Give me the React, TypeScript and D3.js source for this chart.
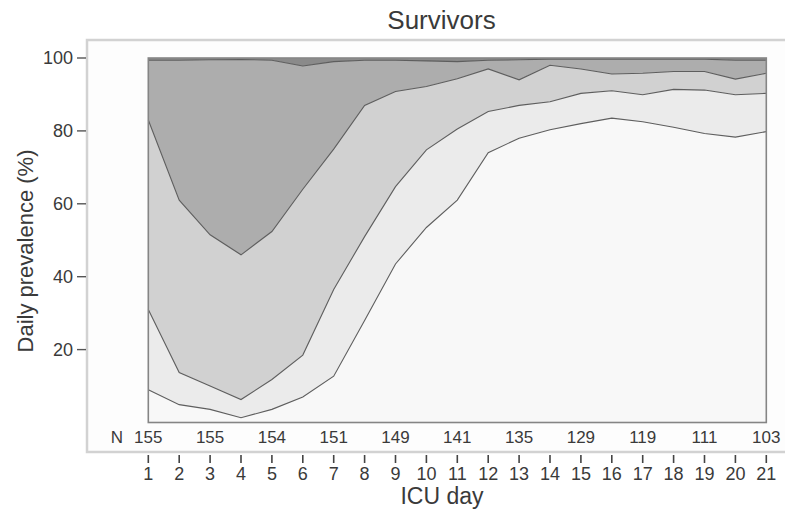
import * as React from "react";
import * as d3 from "d3";

// ICU day 1..21
const days = d3.range(1, 22);
// cumulative boundaries of the stacked bands (%)
const lineA = [9, 4.9, 3.6, 1.3, 3.6, 7, 12.7, 28, 43.5, 53.5, 61, 74, 78, 80.3, 82, 83.5, 82.5, 81, 79.3, 78.3, 79.8];
const lineB = [31, 13.7, 10, 6.3, 11.8, 18.5, 36.5, 51, 64.7, 74.8, 80.5, 85.3, 87, 88, 90.3, 91, 89.9, 91.4, 91.2, 89.9, 90.3];
const lineC = [83, 61, 51.5, 46, 52.4, 64, 75, 87, 90.8, 92.2, 94.3, 97, 94, 98, 97, 95.6, 95.8, 96.3, 96.3, 94.2, 95.8];
const lineD = [99.4, 99.4, 99.5, 99.6, 99.4, 97.8, 99, 99.4, 99.4, 99.2, 99, 99.4, 99.5, 99.7, 99.7, 99.7, 99.7, 99.7, 99.7, 99.4, 99.4];
const lineTop = days.map(() => 100);

// numbers at risk, on odd days
const nDays = [1, 3, 5, 7, 9, 11, 13, 15, 17, 19, 21];
const nValues = [155, 155, 154, 151, 149, 141, 135, 129, 119, 111, 103];

const yTicks = [20, 40, 60, 80, 100];

const bands = [
  { lower: days.map(() => 0), upper: lineA, fill: "#f8f8f8" },
  { lower: lineA, upper: lineB, fill: "#ebebeb" },
  { lower: lineB, upper: lineC, fill: "#d1d1d1" },
  { lower: lineC, upper: lineD, fill: "#adadad" },
  { lower: lineD, upper: lineTop, fill: "#8a8a8a" },
];

const font = "'Liberation Sans', Arial, sans-serif";
const textColor = "#3a3a3a";

export default function App() {
  const width = 785;
  const height = 511;

  const xScale = d3.scaleLinear().domain([1, 21]).range([148.3, 766.3]);
  const yScale = d3.scaleLinear().domain([0, 100]).range([422.5, 58]);

  const bandPath = (lower: number[], upper: number[]) =>
    d3
      .area<number>()
      .x((d) => xScale(d))
      .y0((_, i) => yScale(lower[i]))
      .y1((_, i) => yScale(upper[i]))(days) ?? "";

  const lineGen = d3
    .line<number>()
    .x((_, i) => xScale(days[i]))
    .y((d) => yScale(d));

  return (
    <div style={{ position: "absolute", left: 0, top: 0 }}>
      <svg width={width} height={height} fontFamily={font}>
        <rect width={width} height={height} fill="#ffffff" />
        {/* outer panel */}
        <rect x={87} y={40} width={720} height={412} fill="#fdfdfd" stroke="#d2d2d2" strokeWidth={2.5} />

        {/* bands */}
        {bands.map((b, i) => (
          <path key={i} d={bandPath(b.lower, b.upper)} fill={b.fill} />
        ))}
        {[lineA, lineB, lineC, lineD].map((l, i) => (
          <path key={i} d={lineGen(l) ?? ""} fill="none" stroke="#5e5e5e" strokeWidth={1.1} />
        ))}

        {/* plot border */}
        <rect
          x={xScale(1)}
          y={yScale(100)}
          width={xScale(21) - xScale(1)}
          height={yScale(0) - yScale(100)}
          fill="none"
          stroke="#858585"
          strokeWidth={1.6}
        />

        {/* y axis */}
        <g fontSize={18} fill={textColor} textAnchor="end">
          {yTicks.map((t) => (
            <g key={t} transform={`translate(0, ${yScale(t)})`}>
              <line x1={77} x2={86} stroke="#555" strokeWidth={1.4} />
              <text x={73} dy="0.35em">
                {t}
              </text>
            </g>
          ))}
        </g>
        <text
          transform={`translate(25, 251) rotate(-90)`}
          dy="0.35em"
          textAnchor="middle"
          fontSize={22}
          fill={textColor}
        >
          Daily prevalence (%)
        </text>

        {/* numbers at risk */}
        <g fontSize={17} fill={textColor} textAnchor="middle">
          <text x={117} y={437} dy="0.35em">
            N
          </text>
          {nDays.map((d, i) => (
            <text key={d} x={xScale(d)} y={437} dy="0.35em">
              {nValues[i]}
            </text>
          ))}
        </g>

        {/* x axis */}
        <g fontSize={18} fill={textColor} textAnchor="middle">
          {days.map((d) => (
            <g key={d} transform={`translate(${xScale(d)}, 0)`}>
              <line y1={455} y2={463} stroke="#444" strokeWidth={1.6} />
              <text y={474} dy="0.35em">
                {d}
              </text>
            </g>
          ))}
        </g>
        <text x={442} y={496} dy="0.35em" textAnchor="middle" fontSize={23} fill={textColor}>
          ICU day
        </text>

        {/* title */}
        <text x={441.5} y={20} dy="0.35em" textAnchor="middle" fontSize={26} fill={textColor}>
          Survivors
        </text>
      </svg>
    </div>
  );
}
